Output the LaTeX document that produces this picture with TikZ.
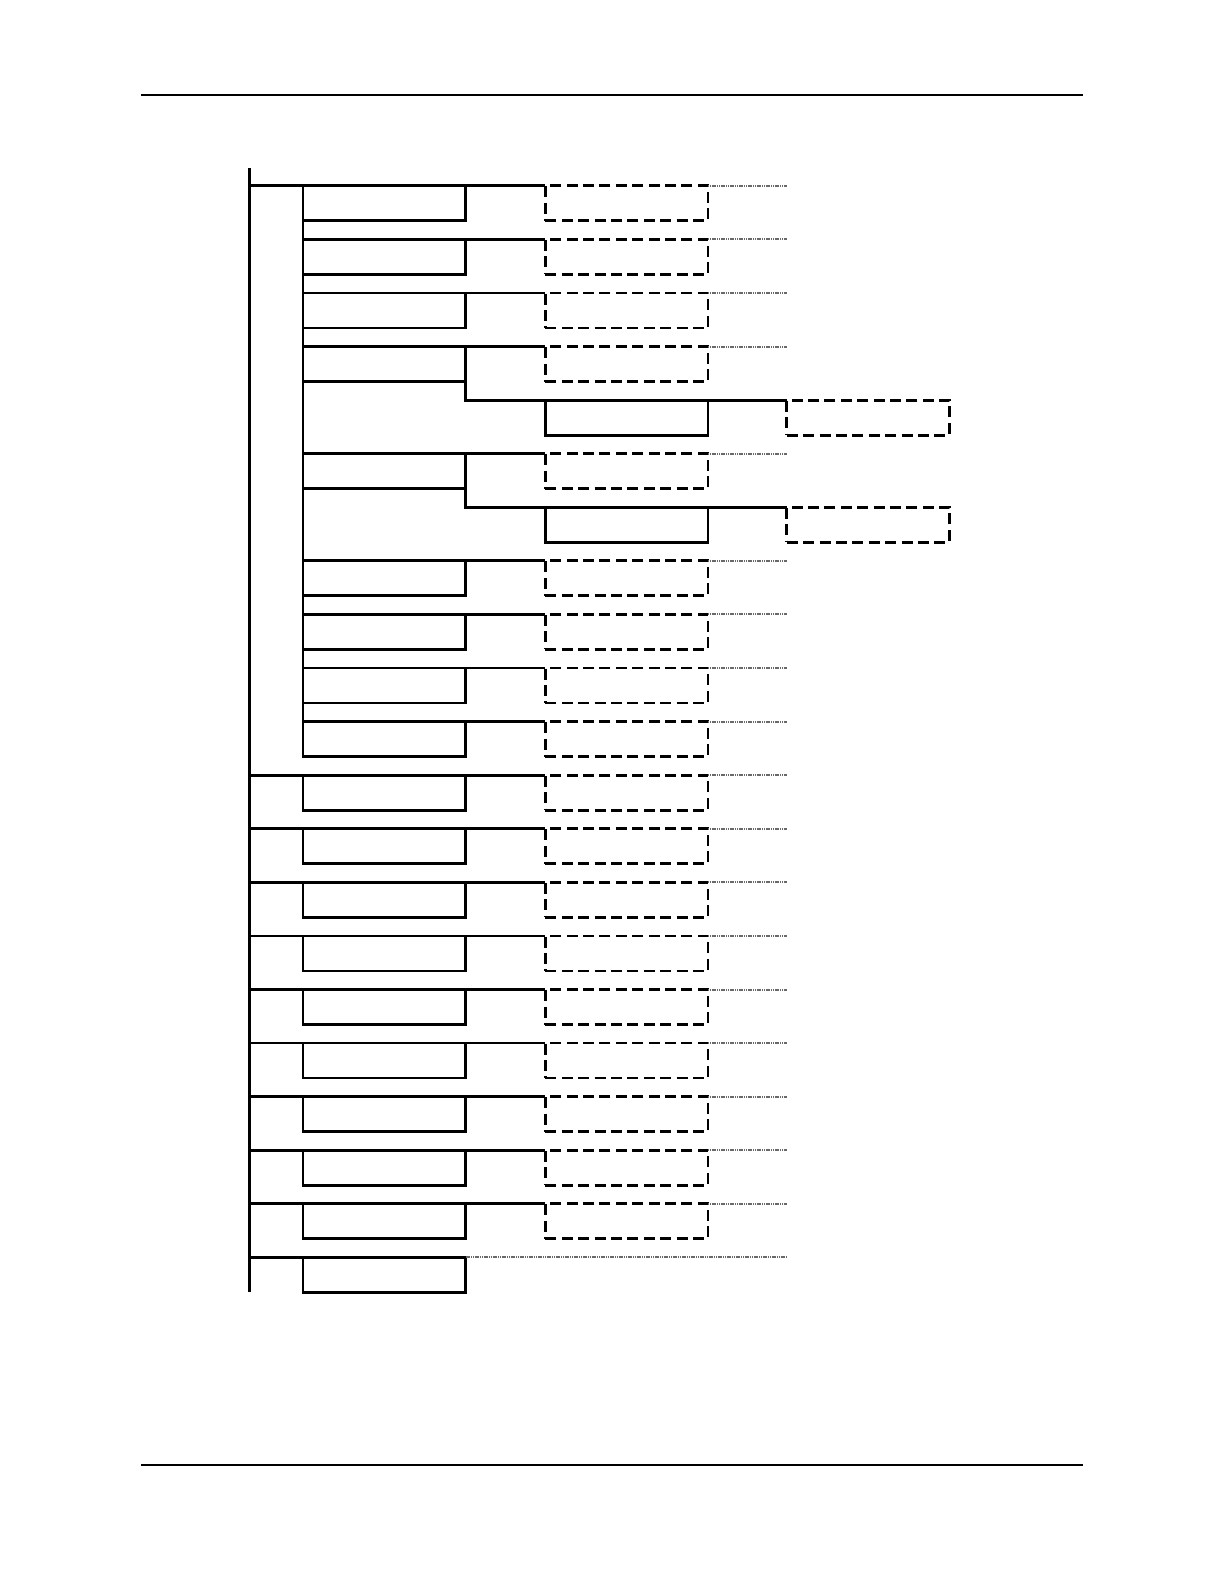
\documentclass[tikz,border=0pt]{standalone}
\usepackage{tikz}
\usetikzlibrary{positioning}
\definecolor{inkmain}{RGB}{0, 0, 0}
\definecolor{leadgrey}{RGB}{105, 105, 105}

\begin{document}
\begin{tikzpicture}[x=1pt, y=1pt, line width=1.4pt, draw=inkmain,
   box/.style={draw=inkmain, rectangle, inner sep=0pt, outer sep=0pt,
               minimum width=81.3pt, minimum height=17.5pt},
   ghost/.style={box, dash pattern=on 5.5pt off 2.7pt},
   leader/.style={draw=leadgrey, line width=1pt, dash pattern=on 0.6pt off 0.3pt},
   rule/.style={draw=inkmain, line width=0.6pt}]
  \useasboundingbox (0,0) rectangle (612,-792);
  % page rules
  \draw[rule] (70.5,-47.5) -- (541.5,-47.5);
  \draw[rule] (70.5,-732.5) -- (541.5,-732.5);
  \coordinate (spine) at (124.7,-84);
  \coordinate (edge) at (393.4,-84);
  % first column
  \foreach \k in {0,1,2,3,5,7,8,9,10,11,12,13,14,15,16,17,18,19,20}
    \node[box, anchor=north west] (b\k) at (151.5,{-92.9-26.79*\k}) {};
  \foreach \k in {0,1,2,3,5,7,8,9,10,11,12,13,14,15,16,17,18,19}
    \node[ghost, right=39.9pt of b\k] (d\k) {};
  % second level under b3 and b5
  \node[box, anchor=north west] (s4) at (272.7,{-92.9-26.79*4}) {};
  \node[box, anchor=north west] (s6) at (272.7,{-92.9-26.79*6}) {};
  \node[ghost, right=39.4pt of s4] (f4) {};
  \node[ghost, right=39.4pt of s6] (f6) {};
  % spines
  \draw (spine) -- (spine |- b20.south);
  \draw (b0.north west) -- (b10.south west);
  % branches
  \foreach \k in {1,2,3,5,7,8,9,10}
    \draw (b\k.north west) -- (d\k.north west);
  \foreach \k in {0,11,12,13,14,15,16,17,18,19}
    \draw (spine |- b\k.north) -- (d\k.north west);
  \draw (spine |- b20.north) -- (b20.north west);
  \draw (b3.south east) -- (b3.east |- s4.north) -- (f4.north west);
  \draw (b5.south east) -- (b5.east |- s6.north) -- (f6.north west);
  % leaders
  \foreach \k in {0,1,2,3,5,7,8,9,10,11,12,13,14,15,16,17,18,19}
    \draw[leader] (d\k.north east) -- (d\k.north east -| edge);
  \draw[leader] (b20.north east) -- (b20.north east -| edge);
\end{tikzpicture}
\end{document}
